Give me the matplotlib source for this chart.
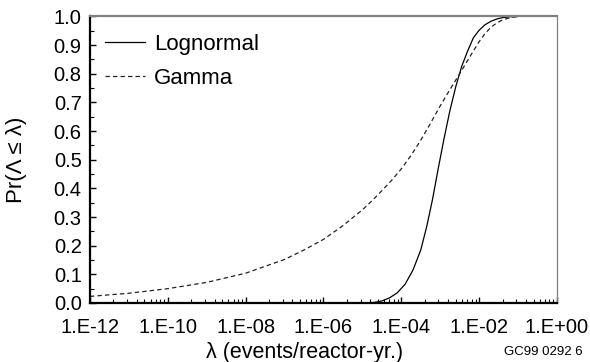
import numpy as np
import matplotlib
matplotlib.use("Agg")
import matplotlib.pyplot as plt
from matplotlib.ticker import FixedLocator, FuncFormatter

plt.rcParams["font.family"] = ["Liberation Sans", "DejaVu Sans"]

# log10 of the rate and cumulative probability, gamma fit
gamma_exp = [-12.0, -11.0, -10.0, -9.0, -8.0, -7.0, -6.5, -6.0, -5.5, -5.0,
             -4.75, -4.5, -4.25, -4.0, -3.75, -3.5, -3.25, -3.0, -2.75, -2.5,
             -2.25, -2.0, -1.85, -1.7, -1.55, -1.4, -1.25, -1.1, -1.0]
gamma_cdf = [0.023, 0.034, 0.050, 0.072, 0.104, 0.152, 0.185, 0.222, 0.270, 0.325,
             0.357, 0.392, 0.428, 0.468, 0.515, 0.568, 0.627, 0.688, 0.745, 0.800,
             0.857, 0.912, 0.940, 0.962, 0.977, 0.988, 0.994, 0.998, 1.0]

# lognormal fit
logn_exp = [-4.9, -4.7, -4.5, -4.3, -4.1, -3.9, -3.7, -3.5, -3.35, -3.2,
            -3.05, -2.9, -2.75, -2.6, -2.45, -2.3, -2.15, -2.0, -1.85, -1.7,
            -1.55, -1.4, -1.2, -1.0]
logn_cdf = [0.0, 0.002, 0.007, 0.018, 0.036, 0.066, 0.115, 0.185, 0.265, 0.360,
            0.470, 0.575, 0.672, 0.755, 0.825, 0.878, 0.925, 0.952, 0.971, 0.983,
            0.991, 0.996, 0.999, 1.0]

major_exp = [-12, -10, -8, -6, -4, -2, 0]
y_major = [0.0, 0.1, 0.2, 0.3, 0.4, 0.5, 0.6, 0.7, 0.8, 0.9, 1.0]

fig = plt.figure(figsize=(5.9, 3.62), dpi=100)
ax = fig.add_axes([0.1525, 0.163, 0.7915, 0.7915])

ax.plot(10.0 ** np.array(logn_exp), logn_cdf, color="black", lw=0.9,
        label="Lognormal", clip_on=False)
ax.plot(10.0 ** np.array(gamma_exp), gamma_cdf, color="#222222", lw=0.9,
        linestyle=(0, (3.5, 2.5)), label="Gamma", clip_on=False)

ax.set_xscale("log")
ax.set_xlim(1e-12, 1.0)
ax.set_ylim(0.0, 1.0)

# labelled ticks every two decades, minor ticks spaced like a single decade
majors = [10.0 ** e for e in major_exp]
minors = [k * k * 10.0 ** e for e in major_exp[:-1] for k in range(2, 10)]
ax.xaxis.set_major_locator(FixedLocator(majors))
ax.xaxis.set_minor_locator(FixedLocator(minors))
ax.xaxis.set_major_formatter(FuncFormatter(
    lambda v, p: "1.E{:+03d}".format(int(round(np.log10(v))))))
ax.xaxis.set_minor_formatter(FuncFormatter(lambda v, p: ""))

ax.yaxis.set_major_locator(FixedLocator(y_major))
ax.yaxis.set_minor_locator(FixedLocator(np.arange(0.05, 1.0, 0.1)))
ax.yaxis.set_major_formatter(FuncFormatter(lambda v, p: "{:.1f}".format(v)))

ax.tick_params(which="major", direction="in", length=4.5, width=1.0,
               labelsize=14.5, top=False, right=False)
ax.tick_params(which="minor", direction="in", length=2.8, width=0.8,
               top=False, right=False)
ax.tick_params(axis="x", which="major", pad=11)
ax.tick_params(axis="y", which="major", pad=6)

for side in ["left", "bottom"]:
    ax.spines[side].set_linewidth(1.6)
    ax.spines[side].set_color("black")
ax.spines["top"].set_linewidth(1.6)
ax.spines["top"].set_color("#808080")
ax.spines["right"].set_linewidth(0.9)
ax.spines["right"].set_color("#808080")

ax.legend(loc="upper left", bbox_to_anchor=(0.014, 0.971), frameon=False,
          fontsize=16, handlelength=1.8, handletextpad=0.4,
          labelspacing=0.6, borderaxespad=0.0)

ax.set_ylabel("Pr(Λ ≤ λ)", fontsize=16)
ax.yaxis.set_label_coords(-0.135, 0.5)
fig.text(0.517, 0.027, "λ (events/reactor-yr.)", fontsize=15.5,
         ha="center", va="center")
fig.text(0.988, 0.027, "GC99 0292 6", fontsize=9.5, ha="right", va="center")

fig.savefig("out.png", dpi=100)
